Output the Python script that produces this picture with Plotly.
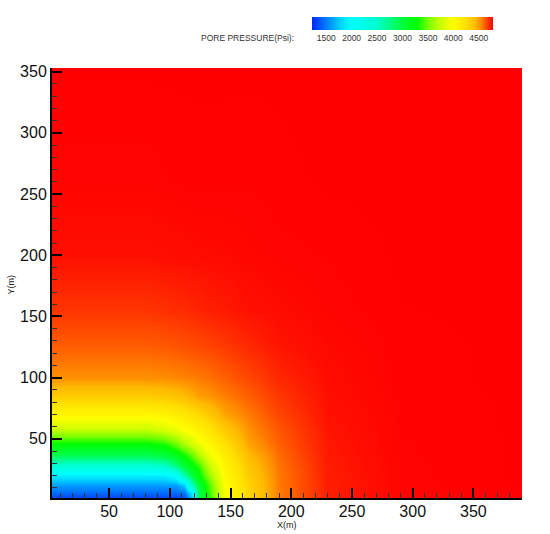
import plotly.graph_objects as go

# grid (metres)
x_m = [3, 40, 80, 95, 105, 112, 118, 124, 132, 145, 165, 190, 230, 290, 390]
y_m = [1.5, 6, 12, 20, 28, 37, 47, 58, 70, 85, 100, 125, 155, 200, 260, 353]

# pore pressure (psi), one row per y_m value, columns follow x_m
pore_pressure = [
    [1320, 1320, 1320, 1320, 1320, 1335, 1730, 2960, 3350, 3945, 4310, 4581, 4740, 4783, 4790],
    [1450, 1450, 1450, 1450, 1450, 1490, 1920, 2970, 3380, 3950, 4312, 4581, 4740, 4783, 4790],
    [1620, 1620, 1620, 1620, 1630, 1765, 2560, 3070, 3430, 3980, 4320, 4583, 4741, 4783, 4790],
    [1890, 1890, 1890, 1890, 2040, 2580, 2990, 3265, 3590, 4025, 4352, 4585, 4742, 4784, 4790],
    [2420, 2420, 2420, 2480, 2780, 3050, 3245, 3400, 3740, 4075, 4385, 4594, 4744, 4784, 4790],
    [2950, 2950, 2950, 3040, 3180, 3320, 3480, 3685, 3925, 4140, 4437, 4606, 4749, 4785, 4790],
    [3310, 3310, 3310, 3370, 3525, 3685, 3815, 3945, 4070, 4245, 4506, 4629, 4752, 4785, 4790],
    [3760, 3760, 3760, 3830, 3920, 4010, 4060, 4120, 4200, 4370, 4542, 4645, 4756, 4786, 4790],
    [4080, 4080, 4080, 4105, 4150, 4190, 4245, 4290, 4370, 4495, 4583, 4673, 4762, 4786, 4790],
    [4350, 4350, 4350, 4375, 4400, 4430, 4470, 4510, 4530, 4570, 4629, 4696, 4767, 4787, 4790],
    [4540, 4540, 4540, 4545, 4555, 4565, 4572, 4581, 4595, 4625, 4669, 4722, 4770, 4788, 4790],
    [4630, 4630, 4630, 4638, 4645, 4650, 4657, 4663, 4672, 4690, 4720, 4754, 4776, 4788, 4790],
    [4700, 4700, 4700, 4709, 4714, 4718, 4725, 4730, 4738, 4746, 4762, 4771, 4783, 4789, 4790],
    [4765, 4765, 4765, 4768, 4769, 4771, 4772, 4773, 4774, 4775, 4780, 4784, 4786, 4790, 4790],
    [4783, 4783, 4783, 4785, 4786, 4786, 4787, 4787, 4787, 4787, 4786, 4788, 4790, 4790, 4790],
    [4790, 4790, 4790, 4790, 4790, 4790, 4790, 4790, 4790, 4790, 4790, 4790, 4790, 4790, 4790],
]

cbar_ticks = [1500, 2000, 2500, 3000, 3500, 4000, 4500]
P_MIN, P_MAX = 1230, 4790

# rainbow legend stops (psi -> colour)
stop_values = [1230, 1500, 1800, 2000, 2500, 3000, 3300, 3500, 3750, 4000, 4250, 4450, 4550, 4790]
stop_colors = ["#0028ff", "#0078ff", "#00d8ff", "#00ffff", "#00ffd0", "#00ff40", "#00ff00",
               "#70ff00", "#c8ff00", "#ffff00", "#ffe000", "#ffb800", "#ff8c00", "#ff0000"]
colorscale = [[(v - P_MIN) / (P_MAX - P_MIN), c] for v, c in zip(stop_values, stop_colors)]

FONT = "Liberation Sans, Arial, sans-serif"

fig = go.Figure(go.Heatmap(
    x=x_m,
    y=y_m,
    z=pore_pressure,
    zmin=P_MIN,
    zmax=P_MAX,
    zsmooth="best",
    colorscale=colorscale,
    hoverinfo="skip",
    colorbar=dict(
        orientation="h",
        x=0.7468, xanchor="center",
        y=1.118, yanchor="top",
        len=181, lenmode="pixels",
        thickness=13,
        xpad=0, ypad=0,
        outlinewidth=0,
        tickvals=cbar_ticks,
        ticks="",
        tickfont=dict(family=FONT, size=8.5, color="#333"),
    ),
))

axis_common = dict(
    showgrid=False,
    zeroline=False,
    showline=True,
    linecolor="black",
    linewidth=2,
    ticks="inside",
    ticklen=10,
    tickwidth=2,
    tickcolor="black",
    tick0=0,
    dtick=50,
    tickfont=dict(family=FONT, size=16, color="#111"),
    minor=dict(dtick=10, tick0=0, ticks="inside", ticklen=5, tickwidth=1, tickcolor="#333"),
)

fig.update_layout(
    width=550,
    height=534,
    margin=dict(l=52, r=28, t=68, b=36),
    paper_bgcolor="white",
    plot_bgcolor="white",
    font=dict(family=FONT, color="#111"),
    xaxis=dict(range=[3, 390], ticklabelstandoff=-2, **axis_common),
    yaxis=dict(range=[1.7, 353], **axis_common),
    annotations=[
        dict(text="X(m)", x=0.5, y=-0.063, xref="paper", yref="paper",
             xanchor="center", yanchor="middle",
             showarrow=False, font=dict(size=9, color="#222")),
        dict(text="Y(m)", x=-0.0862, y=0.4977, xref="paper", yref="paper",
             xanchor="center", yanchor="middle",
             textangle=-90, showarrow=False, font=dict(size=9, color="#222")),
        dict(text="PORE PRESSURE(Psi):", x=0.519, y=1.0705, xref="paper", yref="paper",
             xanchor="right", yanchor="middle",
             showarrow=False, font=dict(size=8.5, color="#333")),
    ],
)

fig.write_html("out.html", config={"displayModeBar": False},
               post_script="document.body.style.margin='0';")
